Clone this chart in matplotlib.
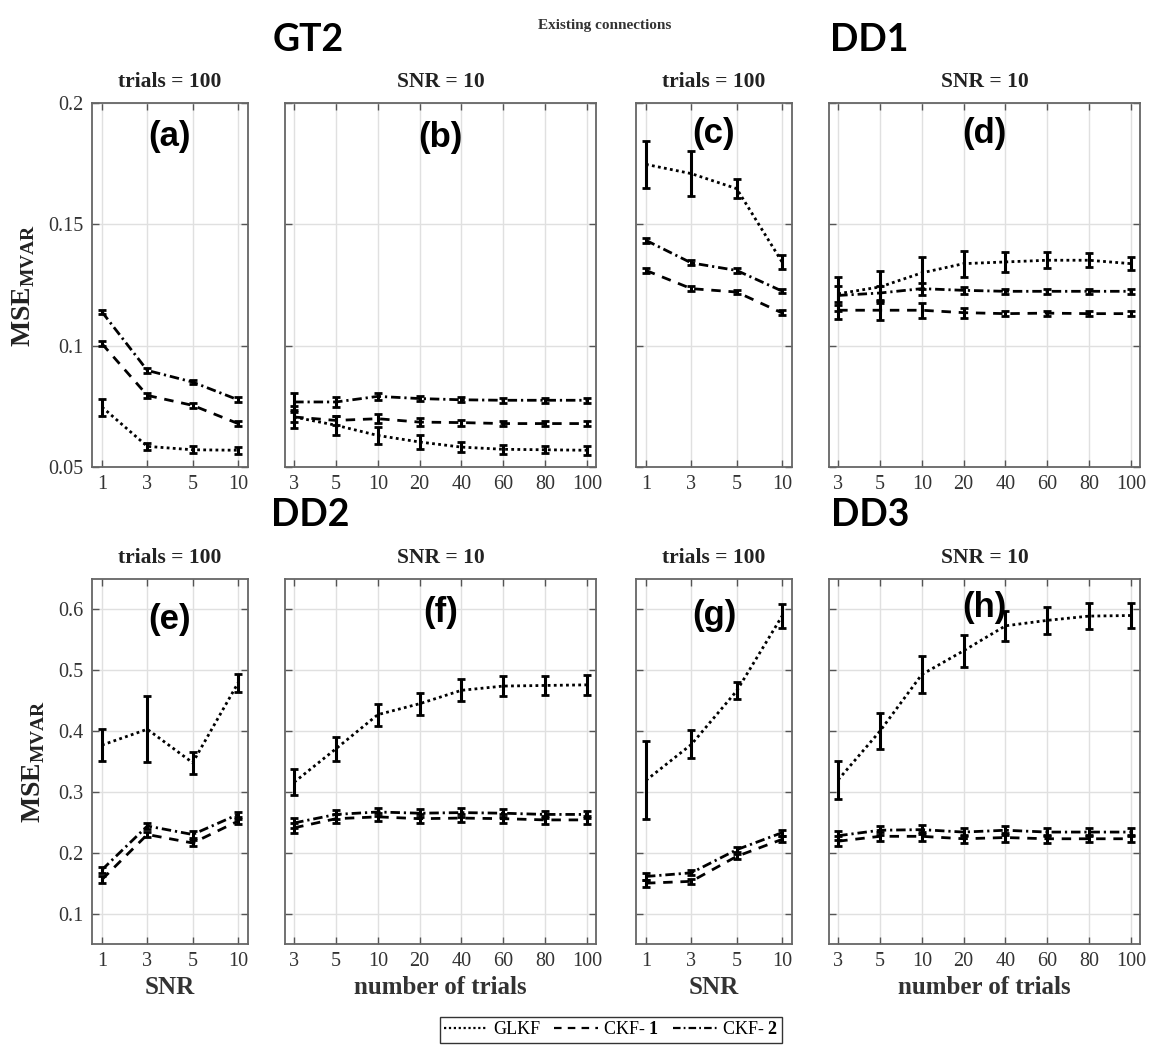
import matplotlib
matplotlib.use("Agg")
import matplotlib.pyplot as plt
from matplotlib.lines import Line2D
import numpy as np

plt.rcParams['mathtext.fontset'] = 'custom'
plt.rcParams['mathtext.rm'] = 'Liberation Serif'
plt.rcParams['mathtext.bf'] = 'Liberation Serif:bold'
plt.rcParams['font.family'] = 'Liberation Serif'

# ---------------- data ----------------
snr_labels = ['1', '3', '5', '10']
trial_labels = ['3', '5', '10', '20', '40', '60', '80', '100']

# (a) GT2, trials = 100
a_glkf = [0.0747, 0.0585, 0.0571, 0.0569]
a_glkf_err = [0.0035, 0.0015, 0.0015, 0.0015]
a_ckf1 = [0.1008, 0.0795, 0.0754, 0.0679]
a_ckf1_err = [0.001, 0.001, 0.001, 0.001]
a_ckf2 = [0.1139, 0.0898, 0.0850, 0.0777]
a_ckf2_err = [0.001, 0.001, 0.001, 0.001]

# (b) GT2, SNR = 10
b_glkf = [0.0706, 0.0672, 0.0630, 0.0603, 0.0582, 0.0573, 0.0571, 0.0569]
b_glkf_err = [0.0045, 0.004, 0.0035, 0.003, 0.0022, 0.0018, 0.0015, 0.0018]
b_ckf1 = [0.0706, 0.0692, 0.0699, 0.0685, 0.0683, 0.0679, 0.0679, 0.0679]
b_ckf1_err = [0.002, 0.002, 0.0018, 0.0015, 0.0012, 0.001, 0.001, 0.001]
b_ckf2 = [0.0768, 0.0768, 0.0791, 0.0782, 0.0777, 0.0775, 0.0775, 0.0775]
b_ckf2_err = [0.0035, 0.002, 0.0015, 0.0012, 0.001, 0.001, 0.001, 0.001]

# (c) DD1, trials = 100
c_glkf = [0.1747, 0.1709, 0.1647, 0.1345]
c_glkf_err = [0.0098, 0.0093, 0.004, 0.003]
c_ckf1 = [0.1310, 0.1235, 0.1221, 0.1135]
c_ckf1_err = [0.001, 0.001, 0.001, 0.001]
c_ckf2 = [0.1434, 0.1341, 0.1310, 0.1225]
c_ckf2_err = [0.001, 0.001, 0.001, 0.001]

# (d) DD1, SNR = 10
d_glkf = [0.1214, 0.1242, 0.1300, 0.1338, 0.1345, 0.1352, 0.1352, 0.1338]
d_glkf_err = [0.007, 0.0065, 0.0065, 0.0053, 0.004, 0.0033, 0.0028, 0.0026]
d_ckf1 = [0.1146, 0.1146, 0.1146, 0.1136, 0.1132, 0.1134, 0.1132, 0.1132]
d_ckf1_err = [0.0035, 0.004, 0.003, 0.002, 0.001, 0.001, 0.001, 0.001]
d_ckf2 = [0.1207, 0.1217, 0.1235, 0.1228, 0.1224, 0.1224, 0.1224, 0.1224]
d_ckf2_err = [0.004, 0.003, 0.0025, 0.0015, 0.001, 0.001, 0.001, 0.001]

# (e) DD2, trials = 100
e_glkf = [0.377, 0.403, 0.348, 0.479]
e_glkf_err = [0.026, 0.054, 0.018, 0.015]
e_ckf1 = [0.156, 0.230, 0.216, 0.252]
e_ckf1_err = [0.005, 0.004, 0.005, 0.004]
e_ckf2 = [0.172, 0.244, 0.230, 0.263]
e_ckf2_err = [0.005, 0.005, 0.005, 0.004]

# (f) DD2, SNR = 10
f_glkf = [0.316, 0.371, 0.427, 0.445, 0.467, 0.474, 0.475, 0.476]
f_glkf_err = [0.021, 0.020, 0.018, 0.018, 0.018, 0.016, 0.016, 0.016]
f_ckf1 = [0.241, 0.256, 0.259, 0.256, 0.257, 0.256, 0.254, 0.254]
f_ckf1_err = [0.008, 0.007, 0.007, 0.007, 0.007, 0.007, 0.006, 0.006]
f_ckf2 = [0.249, 0.263, 0.267, 0.265, 0.266, 0.265, 0.263, 0.263]
f_ckf2_err = [0.008, 0.007, 0.007, 0.007, 0.007, 0.007, 0.006, 0.006]

# (g) DD3, trials = 100
g_glkf = [0.319, 0.378, 0.466, 0.589]
g_glkf_err = [0.064, 0.023, 0.014, 0.020]
g_ckf1 = [0.150, 0.153, 0.194, 0.222]
g_ckf1_err = [0.006, 0.004, 0.004, 0.005]
g_ckf2 = [0.161, 0.167, 0.205, 0.233]
g_ckf2_err = [0.005, 0.004, 0.004, 0.005]

# (h) DD3, SNR = 10
h_glkf = [0.320, 0.400, 0.493, 0.532, 0.573, 0.582, 0.589, 0.590]
h_glkf_err = [0.031, 0.029, 0.031, 0.026, 0.025, 0.022, 0.021, 0.020]
h_ckf1 = [0.219, 0.227, 0.227, 0.223, 0.225, 0.223, 0.223, 0.223]
h_ckf1_err = [0.008, 0.007, 0.007, 0.007, 0.007, 0.007, 0.006, 0.006]
h_ckf2 = [0.228, 0.237, 0.238, 0.234, 0.237, 0.234, 0.234, 0.234]
h_ckf2_err = [0.007, 0.007, 0.007, 0.007, 0.007, 0.007, 0.006, 0.006]

top_yticks = [0.05, 0.1, 0.15, 0.2]
top_yticklabels = ['0.05', '0.1', '0.15', '0.2']
bot_yticks = [0.1, 0.2, 0.3, 0.4, 0.5, 0.6]
bot_yticklabels = ['0.1', '0.2', '0.3', '0.4', '0.5', '0.6']

# ---------------- figure ----------------
W, H = 1149, 1045
fig = plt.figure(figsize=(W / 100, H / 100), dpi=100)

def rect(x0, x1, y0, y1):
    return [x0 / W, 1 - y1 / H, (x1 - x0) / W, (y1 - y0) / H]

cols = [(92, 248), (285, 596), (636, 792), (829, 1140)]
rows = [(103, 467), (579, 944)]

GLKF_LS = (0, (1, 1.2))
CKF1_LS = (0, (3.4, 2.8))
CKF2_LS = (0, (3.4, 1.4, 0.8, 1.4))

panels = [
    ('(a)', snr_labels, a_glkf, a_glkf_err, a_ckf1, a_ckf1_err, a_ckf2, a_ckf2_err),
    ('(b)', trial_labels, b_glkf, b_glkf_err, b_ckf1, b_ckf1_err, b_ckf2, b_ckf2_err),
    ('(c)', snr_labels, c_glkf, c_glkf_err, c_ckf1, c_ckf1_err, c_ckf2, c_ckf2_err),
    ('(d)', trial_labels, d_glkf, d_glkf_err, d_ckf1, d_ckf1_err, d_ckf2, d_ckf2_err),
    ('(e)', snr_labels, e_glkf, e_glkf_err, e_ckf1, e_ckf1_err, e_ckf2, e_ckf2_err),
    ('(f)', trial_labels, f_glkf, f_glkf_err, f_ckf1, f_ckf1_err, f_ckf2, f_ckf2_err),
    ('(g)', snr_labels, g_glkf, g_glkf_err, g_ckf1, g_ckf1_err, g_ckf2, g_ckf2_err),
    ('(h)', trial_labels, h_glkf, h_glkf_err, h_ckf1, h_ckf1_err, h_ckf2, h_ckf2_err),
]

label_pos = {'(a)': 0.909, '(b)': 0.904, '(c)': 0.917, '(d)': 0.917,
             '(e)': 0.888, '(f)': 0.907, '(g)': 0.901, '(h)': 0.923}

for i, (lab, xl, gl, gle, c1, c1e, c2, c2e) in enumerate(panels):
    r, c = divmod(i, 4)
    ax = fig.add_axes(rect(cols[c][0], cols[c][1], rows[r][0], rows[r][1]))
    x = np.arange(len(xl))
    for y, e, ls in [(c2, c2e, CKF2_LS), (c1, c1e, CKF1_LS), (gl, gle, GLKF_LS)]:
        ax.plot(x, y, color='black', lw=2.0, ls=ls, zorder=3)
        ax.errorbar(x, y, yerr=e, fmt='none', ecolor='black', elinewidth=2.2,
                    capsize=3, capthick=2, zorder=4)
    ax.set_xlim(-0.22, len(xl) - 1 + 0.22)
    ax.set_xticks(x)
    ax.set_xticklabels(xl)
    if r == 0:
        ax.set_ylim(0.05, 0.2)
        ax.set_yticks(top_yticks)
        ax.set_yticklabels(top_yticklabels if c == 0 else [])
    else:
        ax.set_ylim(0.05, 0.65)
        ax.set_yticks(bot_yticks)
        ax.set_yticklabels(bot_yticklabels if c == 0 else [])
    ax.grid(True, color='#e0e0e0', lw=1.0, zorder=0)
    ax.set_axisbelow(True)
    ax.tick_params(direction='in', top=True, right=True, length=5, width=1,
                   colors='#555555', labelsize=14.5, labelcolor='#333333', pad=6)
    for s in ax.spines.values():
        s.set_color('#666666')
        s.set_linewidth(1.3)
    ax.text(0.5, label_pos[lab], lab, transform=ax.transAxes,
            ha='center', va='center', fontsize=25, fontweight='bold',
            family='Liberation Sans', zorder=6)
    # subtitle
    ttl = 'trials = 100' if c in (0, 2) else 'SNR = 10'
    ax.text(0.5, 1.0 + 21 / (rows[r][1] - rows[r][0]), ttl, transform=ax.transAxes,
            ha='center', va='center', fontsize=15.5, fontweight='bold', color='#222222')
    if c == 0:
        ax.set_ylabel(r'$\mathbf{MSE}_{\mathbf{MVAR}}$', fontsize=20, labelpad=8,
                      color='#222222')
    if r == 1:
        ax.set_xlabel('SNR' if c in (0, 2) else 'number of trials',
                      fontsize=18, fontweight='bold', color='#333333', labelpad=3)

# big dataset labels
for txt, xc, yc in [('GT2', 308, 40), ('DD1', 869, 40), ('DD2', 310, 515), ('DD3', 870, 515)]:
    fig.text(xc / W, 1 - yc / H, txt, ha='center', va='center', fontsize=27,
             fontweight='bold', family='Lato')
fig.text(605 / W, 1 - 25 / H, 'Existing connections', ha='center', va='center',
         fontsize=11, fontweight='bold', color='#333333')

# legend
handles = [Line2D([], [], color='black', lw=1.6, ls=GLKF_LS),
           Line2D([], [], color='black', lw=1.6, ls=CKF1_LS),
           Line2D([], [], color='black', lw=1.6, ls=CKF2_LS)]
labels = ['GLKF', r'CKF- $\mathbf{1}$', r'CKF- $\mathbf{2}$']
leg = fig.legend(handles, labels, loc='center', bbox_to_anchor=(611 / W, 1 - 1030 / H),
                 ncol=3, frameon=True, fancybox=False, edgecolor='black',
                 fontsize=13, handlelength=2.4, handletextpad=0.3,
                 columnspacing=0.8, borderpad=0.25, borderaxespad=0)
leg.get_frame().set_linewidth(1.0)

fig.savefig('out.png', dpi=100)
